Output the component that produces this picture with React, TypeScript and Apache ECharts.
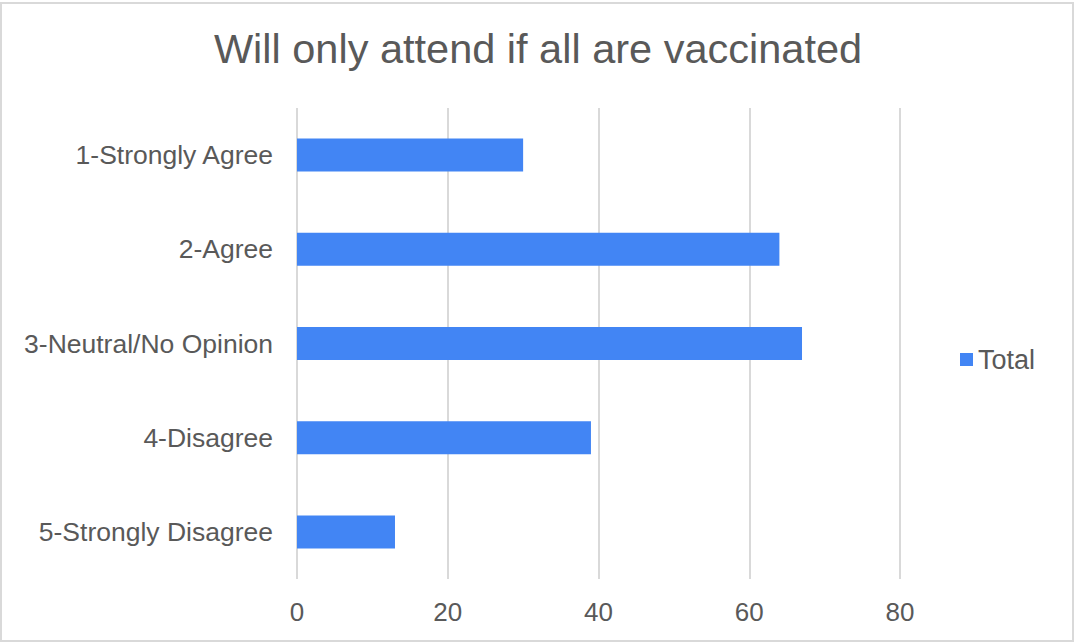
import React, { useEffect, useRef } from "react";
import * as echarts from "echarts";

const categories = [
  "1-Strongly Agree",
  "2-Agree",
  "3-Neutral/No Opinion",
  "4-Disagree",
  "5-Strongly Disagree",
];
const totals = [30, 64, 67, 39, 13];
const xTicks = [0, 20, 40, 60, 80];

export default function App() {
  const ref = useRef<HTMLDivElement>(null);
  useEffect(() => {
    if (!ref.current) return;
    const chart = echarts.init(ref.current, null, { renderer: "svg" });
    chart.setOption({
      animation: false,
      backgroundColor: "#ffffff",
      graphic: [
        {
          type: "rect",
          shape: { x: 1, y: 3, width: 1072, height: 638 },
          style: { fill: "none", stroke: "#d9d9d9", lineWidth: 2 },
          silent: true,
        },
      ],
      title: {
        text: "Will only attend if all are vaccinated",
        left: "center",
        top: 22,
        textStyle: {
          fontFamily: "Liberation Sans",
          fontSize: 41.5,
          fontWeight: "normal",
          color: "#595959",
        },
      },
      legend: {
        data: ["Total"],
        orient: "vertical",
        left: 955,
        top: 341,
        itemWidth: 13,
        itemHeight: 13,
        itemGap: 8,
        icon: "rect",
        textStyle: {
          fontFamily: "Liberation Sans",
          fontSize: 27,
          color: "#595959",
        },
      },
      grid: { left: 297, right: 176, top: 108, bottom: 65, containLabel: false },
      xAxis: {
        type: "value",
        min: xTicks[0],
        max: xTicks[xTicks.length - 1],
        interval: 20,
        axisLine: { show: false },
        axisTick: { show: false },
        splitLine: { show: true, lineStyle: { color: "#d9d9d9", width: 2 } },
        axisLabel: {
          fontFamily: "Liberation Sans",
          fontSize: 26,
          color: "#595959",
          margin: 20,
        },
      },
      yAxis: {
        type: "category",
        data: categories,
        inverse: true,
        axisLine: { show: false },
        axisTick: { show: false },
        axisLabel: {
          fontFamily: "Liberation Sans",
          fontSize: 26.5,
          color: "#595959",
          margin: 24,
        },
      },
      series: [
        {
          name: "Total",
          type: "bar",
          data: totals,
          barWidth: "35%",
          itemStyle: { color: "#4285f4" },
        },
      ],
    });
    return () => chart.dispose();
  }, []);
  return (
    <div
      ref={ref}
      style={{ position: "absolute", left: 0, top: 0, width: 1076, height: 644 }}
    />
  );
}
